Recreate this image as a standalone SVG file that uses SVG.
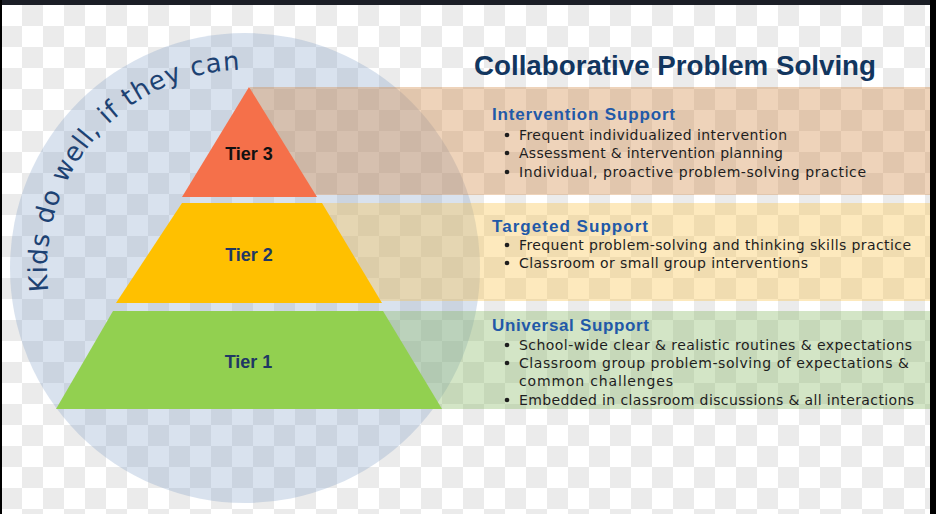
<svg xmlns="http://www.w3.org/2000/svg" width="936" height="514" viewBox="0 0 936 514">
  <defs>
    <pattern id="checker" x="1" y="5" width="42" height="42" patternUnits="userSpaceOnUse">
      <rect width="42" height="42" fill="#ffffff"/>
      <rect x="21" y="0" width="21" height="21" fill="#ebebeb"/>
      <rect x="0" y="21" width="21" height="21" fill="#ebebeb"/>
    </pattern>
    <path id="arc" d="M48.4,291 A198,198 0 0,1 275,72"/>
    <style>
      .head { font-family: "Liberation Sans", Arial, sans-serif; font-weight: bold; font-size: 17px; fill: #2259a8; }
      .item { font-family: "DejaVu Sans", "Liberation Sans", sans-serif; font-size: 14px; fill: #1e1e1e; }
      .bul { fill: #1e1e1e; }
      .tier { font-family: "Liberation Sans", Arial, sans-serif; font-weight: bold; font-size: 18px; text-anchor: middle; }
    </style>
  </defs>

  <!-- background -->
  <rect x="0" y="0" width="936" height="514" fill="url(#checker)"/>
  <rect x="0" y="0" width="936" height="5" fill="#1b1e26"/>
  <rect x="0" y="0" width="2" height="514" fill="#000000"/>
  <rect x="930" y="0" width="6" height="514" fill="#000000"/>

  <!-- circle -->
  <g id="circle">
    <circle cx="245" cy="268" r="235" fill="#809ec6" fill-opacity="0.3"/>
    <text font-family="'DejaVu Sans', 'Liberation Sans', sans-serif" font-size="26" fill="#1d4273">
      <textPath href="#arc" textLength="329" lengthAdjust="spacing">Kids do well, if they can</textPath>
    </text>
  </g>

  <!-- bands -->
  <g id="bands">
    <rect x="250" y="87" width="680" height="108" fill="#d1843f" fill-opacity="0.36"/>
    <rect x="320" y="203" width="610" height="98" fill="#f9c348" fill-opacity="0.36"/>
    <rect x="383" y="311" width="547" height="98" fill="#84b862" fill-opacity="0.36"/>
  </g>

  <!-- pyramid tiers -->
  <g id="tier3">
    <polygon points="249,87 317,197 182,197" fill="#f5704a"/>
    <text class="tier" x="249" y="160" fill="#111111">Tier 3</text>
  </g>
  <g id="tier2">
    <polygon points="182,203 322,203 382,303 116,303" fill="#ffc000"/>
    <text class="tier" x="249" y="261" fill="#1f3864">Tier 2</text>
  </g>
  <g id="tier1">
    <polygon points="113,311 383,311 442,409 56,409" fill="#92d050"/>
    <text class="tier" x="248.5" y="368" fill="#1f3864">Tier 1</text>
  </g>

  <!-- title -->
  <g id="title">
    <text x="474" y="75" font-family="'Liberation Sans', Arial, sans-serif" font-weight="bold" font-size="27" fill="#12365f" textLength="402" lengthAdjust="spacingAndGlyphs">Collaborative Problem Solving</text>
  </g>

  <!-- intervention support -->
  <g id="intervention">
    <text class="head" x="492" y="120" textLength="183">Intervention Support</text>
    <circle class="bul" cx="507" cy="135" r="2.3"/>
    <text class="item" x="519" y="140" textLength="268">Frequent individualized intervention</text>
    <circle class="bul" cx="507" cy="153" r="2.3"/>
    <text class="item" x="519" y="158" textLength="264">Assessment &amp; intervention planning</text>
    <circle class="bul" cx="507" cy="172" r="2.3"/>
    <text class="item" x="519" y="177" textLength="347">Individual, proactive problem-solving practice</text>
  </g>

  <!-- targeted support -->
  <g id="targeted">
    <text class="head" x="492" y="232" textLength="156">Targeted Support</text>
    <circle class="bul" cx="507" cy="245" r="2.3"/>
    <text class="item" x="519" y="250" textLength="392">Frequent problem-solving and thinking skills practice</text>
    <circle class="bul" cx="507" cy="263" r="2.3"/>
    <text class="item" x="519" y="268" textLength="289">Classroom or small group interventions</text>
  </g>

  <!-- universal support -->
  <g id="universal">
    <text class="head" x="492" y="331" textLength="157">Universal Support</text>
    <circle class="bul" cx="507" cy="345" r="2.3"/>
    <text class="item" x="519" y="350" textLength="393">School-wide clear &amp; realistic routines &amp; expectations</text>
    <circle class="bul" cx="507" cy="363" r="2.3"/>
    <text class="item" x="519" y="368" textLength="390">Classroom group problem-solving of expectations &amp;</text>
    <text class="item" x="519" y="386" textLength="154">common challenges</text>
    <circle class="bul" cx="507" cy="400" r="2.3"/>
    <text class="item" x="519" y="405" textLength="395">Embedded in classroom discussions &amp; all interactions</text>
  </g>
</svg>
